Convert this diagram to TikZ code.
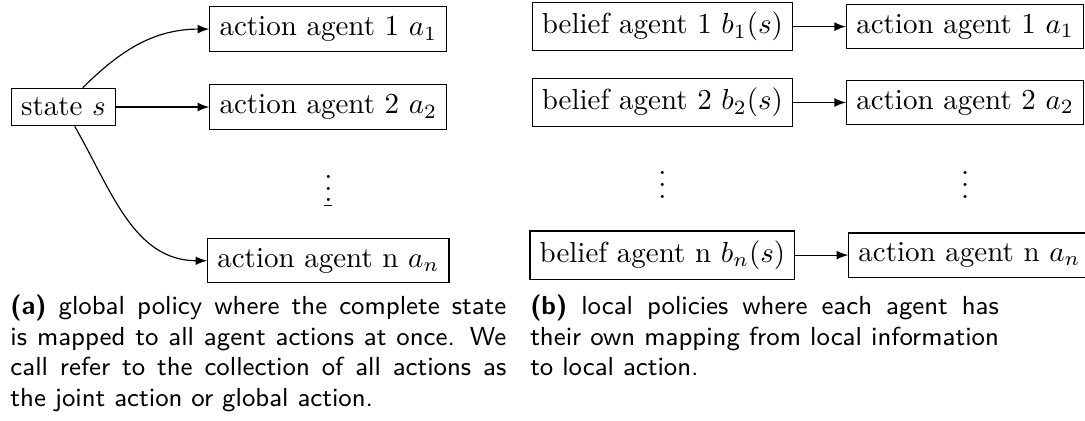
\documentclass[tikz,border=0pt]{standalone}
\usepackage{tikz}
\usetikzlibrary{arrows,positioning}

\begin{document}
\begin{tikzpicture}[
    node distance=0.39cm and 1.13cm,
    every node/.style={font=\normalsize},
    agentnode/.style={rectangle, draw, thin, inner sep=3.33pt},
    dotsnode/.style={inner sep=0pt, anchor=base},
    arrow/.style={-latex, thin},
    captionnode/.style={font=\fontsize{9}{10.5}\selectfont\sffamily, align=justify, inner sep=0pt, anchor=north west}
]
\useasboundingbox (0,0) rectangle (13.15,-5.10);

% (a) one global policy: state to every agent
\node[agentnode] (state) at (0.77,-1.297) {state $s$};
\node[agentnode, right=1.13cm of state] (act2) {action agent 2 $a_2$};
\node[agentnode, above=0.39cm of act2] (act1) {action agent 1 $a_1$};
\node[agentnode, below=1.31cm of act2] (actn) {action agent n $a_n$};
\node[below=0.87cm of act2, dotsnode] (actdots) {$\underline{\vdots}$};

\draw[arrow] (state) -- (act2);
\draw[arrow] (state) to[out=45, in=180] (act1);
\draw[arrow] (state) to[out=-60, in=180] (actn);

% (b) local policies: one belief per agent
\node[agentnode, right=1.02cm of act1, yshift=0.03cm] (bel1) {belief agent 1 $b_1(s)$};
\node[agentnode, right=0.64cm of bel1] (loc1) {action agent 1 $a_1$};
\node[agentnode, below=0.32cm of bel1] (bel2) {belief agent 2 $b_2(s)$};
\node[agentnode, right=0.64cm of bel2] (loc2) {action agent 2 $a_2$};
\node[agentnode, below=1.25cm of bel2] (beln) {belief agent n $b_n(s)$};
\node[agentnode, right=0.64cm of beln] (locn) {action agent n $a_n$};
\node[below=0.86cm of bel2, dotsnode] (beldots) {$\vdots$};
\node[dotsnode] (locdots) at (beldots.base -| loc2) {$\vdots$};

\draw[arrow] (bel1) -- (loc1);
\draw[arrow] (bel2) -- (loc2);
\draw[arrow] (beln) -- (locn);

% Captions
\node[captionnode, text width=6.01cm] (capa) at (0.12,-3.57) {%
    \textbf{(a)} global policy where the complete state is mapped to all agent actions at once. We call refer to the collection of all actions as the joint action or global action.};
\node[captionnode, text width=5.68cm] (capb) at (6.42,-3.57) {%
    \textbf{(b)} local policies where each agent has their own mapping from local information to local action.};

\end{tikzpicture}
\end{document}
